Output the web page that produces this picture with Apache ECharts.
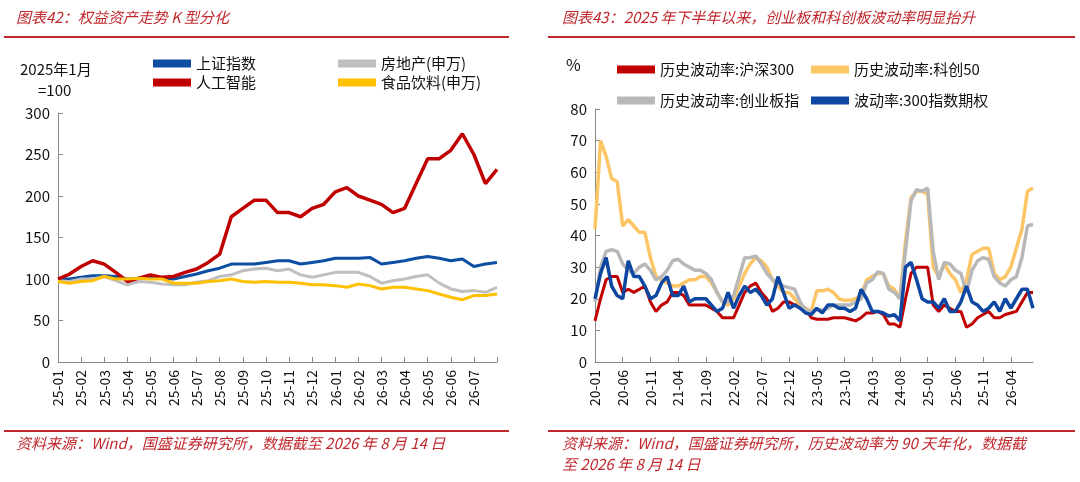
<!DOCTYPE html>
<html><head><meta charset="utf-8">
<script src="https://cdn.jsdelivr.net/npm/echarts@6/dist/echarts.min.js"></script>
<style>
body{margin:0;width:1080px;height:482px;background:#fff;overflow:hidden;font-family:"Noto Sans CJK SC",sans-serif;position:relative}
#c{position:absolute;left:0;top:0;width:1080px;height:482px}
.t{position:absolute;color:#c0282d;font-style:italic;font-size:15px;white-space:nowrap}
.r{position:absolute;height:2px;background:#c0282d}
</style></head><body>
<div id="c"></div>
<div class="t" style="left:16px;top:6px">图表42：权益资产走势 K 型分化</div>
<div class="t" style="left:562px;top:6px">图表43：2025 年下半年以来，创业板和科创板波动率明显抬升</div>
<div class="r" style="left:4px;top:36px;width:505px"></div>
<div class="r" style="left:548px;top:36px;width:527px"></div>
<div class="r" style="left:4px;top:430px;width:505px"></div>
<div class="r" style="left:548px;top:430px;width:527px"></div>
<div class="t" style="left:16px;top:432px">资料来源：Wind，国盛证券研究所，数据截至 2026 年 8 月 14 日</div>
<div class="t" style="left:562px;top:432px">资料来源：Wind，国盛证券研究所，历史波动率为 90 天年化，数据截</div>
<div class="t" style="left:562px;top:453px">至 2026 年 8 月 14 日</div>
<script>
// Left chart (semi-monthly)
const leftCats=[];['25','26'].forEach(y=>{for(let m=1;m<=12;m++){if(y==='26'&&m>7)break;const s=y+'-'+String(m).padStart(2,'0');leftCats.push(s+'a',s+'b');}});leftCats.push('26-08a');
const sse=[100,100,102,104,104,103,100,101,102,101,100,103,106,110,113,118,118,118,120,122,122,118,120,122,125,125,125,126,118,120,122,125,127,125,122,124,115,118,120];
const realEstate=[98,97,100,100,103,98,93,97,96,94,93,93,96,98,103,105,110,112,113,110,112,105,102,105,108,108,108,103,95,98,100,103,105,95,88,85,86,84,90];
const ai=[100,106,115,122,118,108,97,101,105,102,103,108,112,120,130,175,185,195,195,180,180,175,185,190,205,210,200,195,190,180,185,215,245,245,255,275,250,215,232];
const food=[97,95,97,98,103,100,100,101,100,100,95,95,95,97,98,100,97,96,97,96,96,95,93,93,92,90,94,92,88,90,90,88,86,82,78,75,80,80,82];
// Right chart (monthly)
const rightCats=[];for(let y=20;y<=26;y++)for(let m=1;m<=12;m++){if(y===26&&m>8)break;rightCats.push(y+'-'+String(m).padStart(2,'0'));}
const hs300=[13,20,26,27,27,22,23,22,23,24,19,16,18,19,22,22,21,18,18,18,18,17,16,14,14,14,18,22,24,25,22,20,16,17,19,19,18,18,17,14,13.5,13.5,13.5,14,14,14,13.5,13,14,15.5,15.5,16,15,12,12,11,20,28,30,30,30,18,16,18,17,16,16,11,12,14,15,16,14,14,15,15.5,16,19,22,22];
const star50=[42,70,65,58,57,43,45,43,41,41,33,27,26,25,24,24,25,26,26,27,27,25,22,19,18,20,24,28,31,33,32,30,26,24,22,22,20,18,17,16,22.5,22.5,23,22,20,19.5,19.5,20,21,26,27,28,28,24,23,20,38,52,54,54,53,30,27,31,28,26,22,26,34,35,36,36,28,26,27,30,36,42,54,55];
const chinext=[19,30,35,35.5,35,31,29,28,30,31,29,26,27,29,32,32.5,31,30,29,29,28,26,22,19,19,21,27,33,33,33.5,31,28,26,25,24,23.5,23,19,16.5,16,16.5,16.5,17,18,18,18,18,19,20,25,26,28.5,28,23,22,20,35,51,54.5,54,55,35,26,31.5,31,29,28,22,29,32,33,32.5,27,25,24,26,27,33,43,43.5];
const option300=[20,28,33,24,21,20,32,27,27,24,20,21,25,27,21,21,24,19,20,20,20,18,16,17,22,17,21,24,22,23,21,18,20,27,22,17,18,17,15.5,15,17,15.5,18,18,17,17,16,17,23,20,16,16,15.5,14.5,15,13,30,31.5,26,20,19,19,17,20,16,16,19,24,19,18,16,17,19,16,20,17,20,23,23,17];

const F='"Noto Sans CJK SC",sans-serif';
const ax={axisLine:{show:true,lineStyle:{color:'#888'}},axisTick:{show:true,inside:true,length:5,lineStyle:{color:'#888'}},splitLine:{show:false},axisLabel:{color:'#111',fontSize:15,fontFamily:F}};
function xa(gi,data,intv,fmt){return Object.assign({},ax,{type:'category',gridIndex:gi,data,boundaryGap:false,
 axisTick:Object.assign({},ax.axisTick,{interval:intv,alignWithLabel:true}),
 axisLabel:{color:'#111',fontSize:14,fontFamily:F,rotate:90,interval:intv,formatter:fmt,margin:8}});}
function ya(gi,max,intv){return Object.assign({},ax,{type:'value',gridIndex:gi,min:0,max,interval:intv});}
function s(name,data,color,xi,w){return {name,type:'line',data,xAxisIndex:xi,yAxisIndex:xi,showSymbol:false,symbol:'none',lineStyle:{color,width:w},itemStyle:{color},animation:false};}
function lg(name,left,top){return {data:[name],left,top,itemWidth:38,itemHeight:8,itemGap:4,icon:'rect',textStyle:{fontSize:15,fontFamily:F,color:'#111'}};}
const chart=echarts.init(document.getElementById('c'));
chart.setOption({animation:false,
 grid:[{left:58,right:583,top:113,bottom:120},{left:595,right:47,top:109,bottom:120}],
 legend:[lg('上证指数',148,51),lg('人工智能',148,70),lg('房地产(申万)',333,51),lg('食品饮料(申万)',333,70),
   lg('历史波动率:沪深300',612,57),lg('历史波动率:科创50',806,57),lg('历史波动率:创业板指',612,88),lg('波动率:300指数期权',806,88)],
 graphic:[{type:'text',left:20,top:62,style:{text:'2025年1月',fontSize:15,fontFamily:F,fill:'#111'}},
   {type:'text',left:38,top:83,style:{text:'=100',fontSize:15,fontFamily:F,fill:'#111'}},
   {type:'text',left:566,top:57,style:{text:'%',fontSize:16,fontFamily:F,fill:'#111'}}],
 xAxis:[xa(0,leftCats,(i)=>i%2===0,(v,i)=>i===leftCats.length-1?'':v.slice(0,5)),xa(1,rightCats,4,(v)=>v)],
 yAxis:[ya(0,300,50),ya(1,80,10)],
 series:[s('上证指数',sse,'#0b4ea2',0,3),s('房地产(申万)',realEstate,'#bfbfbf',0,3),s('人工智能',ai,'#c00000',0,3.5),s('食品饮料(申万)',food,'#ffc000',0,3),
   s('历史波动率:沪深300',hs300,'#c00000',1,3),s('历史波动率:科创50',star50,'#fcc566',1,3.5),s('历史波动率:创业板指',chinext,'#b8b8b8',1,3.5),s('波动率:300指数期权',option300,'#0d47a1',1,3.5)]
});
</script></body></html>
